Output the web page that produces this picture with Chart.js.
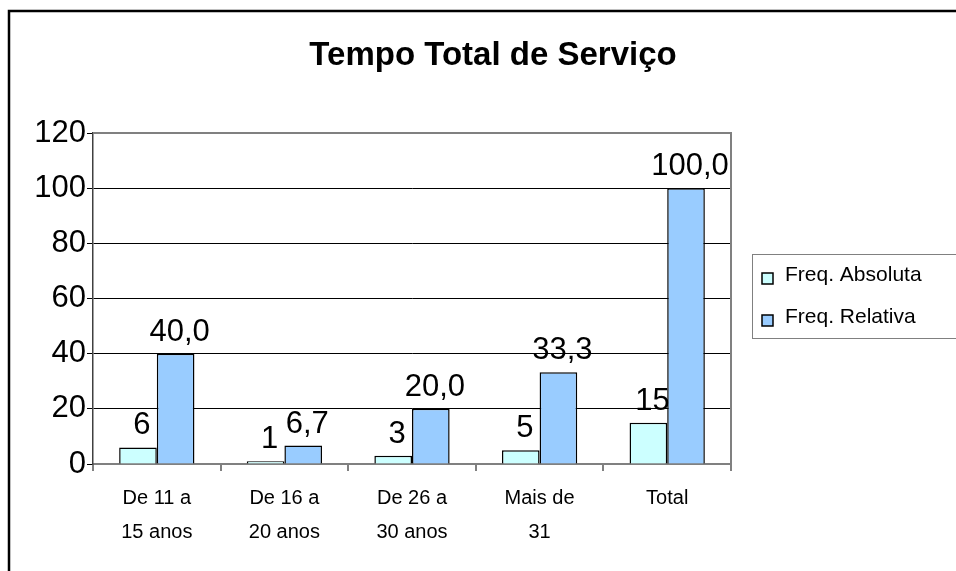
<!DOCTYPE html>
<html>
<head>
<meta charset="utf-8">
<script src="https://cdn.jsdelivr.net/npm/chart.js@4.4.1/dist/chart.umd.min.js"></script>
<style>
  html, body { margin: 0; padding: 0; background: #ffffff; }
  #wrap { width: 956px; height: 571px; position: relative; }
</style>
</head>
<body>
<div id="wrap"><canvas id="tempoChart" width="956" height="571"></canvas></div>
<script>
// chart values
const chartTitle = "Tempo Total de Serviço";
const categories = [
    ["De 11 a", "15 anos"],
    ["De 16 a", "20 anos"],
    ["De 26 a", "30 anos"],
    ["Mais de", "31"],
    ["Total"]
];
const seriesNames = ["Freq. Absoluta", "Freq. Relativa"];
const freqAbsoluta = [6, 1, 3, 5, 15];
const freqRelativa = [40.0, 6.7, 20.0, 33.3, 100.0];
const yTicks = [0, 20, 40, 60, 80, 100, 120];

const colAbs = "#CCFFFF";
const colRel = "#99CCFF";
const fontFam = "Arial, 'Liberation Sans', sans-serif";

// outer frame, title, plot frame, value labels and legend
const decorPlugin = {
    id: "decor",
    beforeDraw(chart) {
        const ctx = chart.ctx;
        ctx.save();
        ctx.fillStyle = "#ffffff";
        ctx.fillRect(0, 0, chart.width, chart.height);
        ctx.strokeStyle = "#000000";
        ctx.lineWidth = 2.5;
        ctx.strokeRect(9, 11, 1200, 1200);
        ctx.fillStyle = "#000000";
        ctx.font = "bold 33px " + fontFam;
        ctx.textAlign = "center";
        ctx.textBaseline = "alphabetic";
        ctx.fillText(chartTitle, 493, 65);
        ctx.restore();
    },
    beforeDatasetsDraw(chart) {
        // value labels sit under the bars, like in the original
        const ctx = chart.ctx;
        ctx.save();
        ctx.fillStyle = "#000000";
        ctx.font = "31px " + fontFam;
        ctx.textAlign = "center";
        ctx.textBaseline = "alphabetic";
        chart.data.datasets.forEach(function(ds, i){
            const meta = chart.getDatasetMeta(i);
            meta.data.forEach(function(bar, j){
                const v = ds.data[j];
                const txt = i === 0 ? String(v) : v.toFixed(1).replace(".", ",");
                ctx.fillText(txt, bar.x + 4, bar.y - 13);
            });
        });
        ctx.restore();
    },
    afterDatasetsDraw(chart) {
        const ctx = chart.ctx;
        const area = chart.chartArea;
        ctx.save();
        // gray top / right border of plot area
        ctx.strokeStyle = "#808080";
        ctx.lineWidth = 2;
        ctx.beginPath();
        ctx.moveTo(area.left, area.top);
        ctx.lineTo(area.right, area.top);
        ctx.lineTo(area.right, area.bottom);
        ctx.stroke();

        // legend box
        ctx.strokeStyle = "#808080";
        ctx.lineWidth = 1;
        ctx.strokeRect(752.5, 254.5, 300, 84);
        ctx.font = "21px " + fontFam;
        ctx.textAlign = "left";
        ctx.textBaseline = "alphabetic";
        chart.data.datasets.forEach(function(ds, i){
            const y = 273 + i * 42;
            ctx.fillStyle = ds.backgroundColor;
            ctx.fillRect(762, y, 11, 11);
            ctx.strokeStyle = "#000000";
            ctx.lineWidth = 1.5;
            ctx.strokeRect(762, y, 11, 11);
            ctx.fillStyle = "#000000";
            ctx.fillText(ds.label, 785, y + 8);
        });
        ctx.restore();
    }
};

new Chart(document.querySelector("#tempoChart"), {

    type: "bar",

    data: {
        labels: categories,
        datasets: [
            {
                label: seriesNames[0],
                data: freqAbsoluta,
                backgroundColor: colAbs,
                borderColor: "#000000",
                borderWidth: 1.5
            },
            {
                label: seriesNames[1],
                data: freqRelativa,
                backgroundColor: colRel,
                borderColor: "#000000",
                borderWidth: 1.5
            }
        ]
    },

    options: {
        responsive: false,
        animation: false,
        layout: {
            padding: { left: 0, top: 133, right: 225, bottom: 0 }
        },
        datasets: {
            bar: {
                barPercentage: 1,
                categoryPercentage: 0.59
            }
        },
        plugins: {
            legend: { display: false },
            tooltip: { enabled: false }
        },
        scales: {
            x: {
                afterFit: function(scale){ scale.height = 107; },
                grid: {
                    offset: true,
                    drawOnChartArea: false,
                    drawTicks: true,
                    tickLength: 7,
                    color: "#808080",
                    lineWidth: 2
                },
                border: { color: "#808080", width: 2 },
                ticks: {
                    color: "#000000",
                    padding: 10,
                    maxRotation: 0,
                    autoSkip: false,
                    font: { family: fontFam, size: 20, lineHeight: 1.7 }
                }
            },
            y: {
                min: 0,
                max: 120,
                afterFit: function(scale){ scale.width = 93; },
                afterBuildTicks: function(scale){
                    scale.ticks = yTicks.map(function(v){ return { value: v }; });
                },
                grid: {
                    color: "#000000",
                    lineWidth: 1,
                    drawTicks: true,
                    tickLength: 6
                },
                border: { color: "#404040", width: 1.5 },
                ticks: {
                    color: "#000000",
                    padding: 1,
                    font: { family: fontFam, size: 31 }
                }
            }
        }
    },

    plugins: [decorPlugin]

});
</script>
</body>
</html>
